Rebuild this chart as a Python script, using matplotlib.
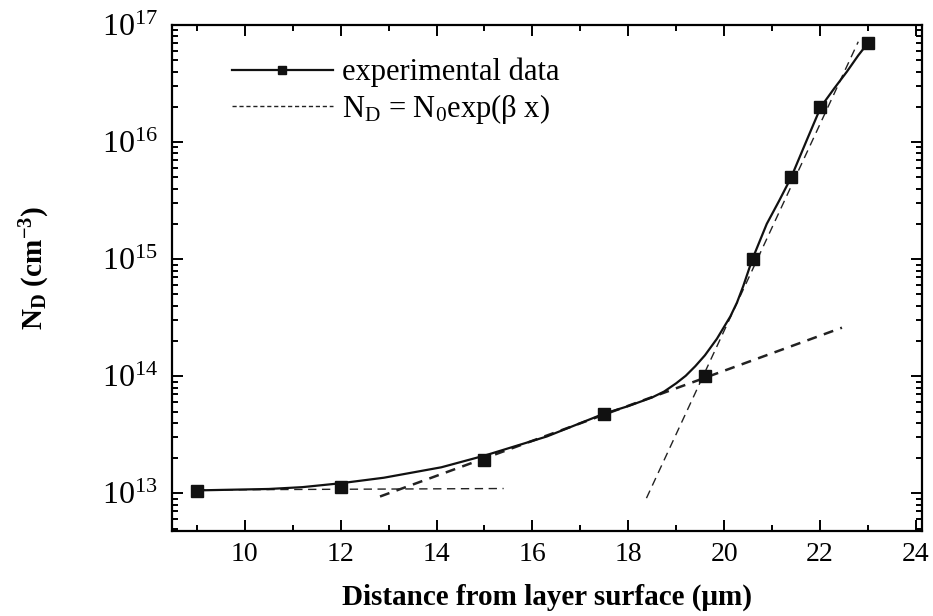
import matplotlib
matplotlib.use('Agg')
import matplotlib.pyplot as plt
from matplotlib.lines import Line2D
from matplotlib.ticker import MultipleLocator, LogLocator

plt.rcParams['font.family'] = ['Liberation Serif', 'DejaVu Serif']
plt.rcParams['mathtext.fontset'] = 'custom'
plt.rcParams['mathtext.rm'] = 'Liberation Serif'
plt.rcParams['mathtext.it'] = 'Liberation Serif:italic'
plt.rcParams['mathtext.bf'] = 'Liberation Serif:bold'
plt.rcParams['mathtext.default'] = 'regular'

# measured points
depth = [9.0, 12.0, 15.0, 17.5, 19.6, 20.6, 21.4, 22.0, 23.0]
nd = [1.05e13, 1.13e13, 1.93e13, 4.8e13, 1.0e14, 1.0e15, 5.0e15, 2.0e16, 7.0e16]

# solid guide curve
curve_x = [9.0, 9.5, 10.5, 11.2, 12.0, 12.9, 14.1, 15.0, 16.3, 17.5, 18.0, 18.5,
           18.75, 19.0, 19.2, 19.4, 19.6, 19.85, 20.13, 20.27, 20.40, 20.59, 20.89,
           21.15, 21.40, 21.73, 22.02, 22.3, 22.56, 22.8, 23.0]
curve_y = [1.06e13, 1.07e13, 1.09e13, 1.13e13, 1.22e13, 1.36e13, 1.67e13, 2.1e13,
           3.06e13, 4.8e13, 5.56e13, 6.6e13, 7.41e13, 8.71e13, 1.01e14, 1.22e14,
           1.51e14, 2.09e14, 3.24e14, 4.27e14, 5.89e14, 1.0e15, 2.0e15, 3.16e15,
           5.0e15, 1.05e16, 2.0e16, 2.88e16, 3.98e16, 5.5e16, 7.0e16]

# exponential fits N_D = N0 exp(beta x), end points
fit1_x, fit1_y = [9.0, 15.4], [1.07e13, 1.10e13]
fit2_x, fit2_y = [12.82, 22.46], [9.4e12, 2.6e14]
fit3_x, fit3_y = [18.38, 22.8], [9.1e12, 7.2e16]

fig = plt.figure(figsize=(9.33, 6.16), dpi=100)
ax = fig.add_axes([0.1844, 0.1385, 0.8038, 0.8209])

ax.plot(fit1_x, fit1_y, color='#222222', lw=1.0, ls=(0, (6, 4)))
ax.plot(fit2_x, fit2_y, color='#222222', lw=1.8, ls=(0, (4, 3)))
ax.plot(fit3_x, fit3_y, color='#222222', lw=1.0, ls=(0, (6, 4)))
ax.plot(curve_x, curve_y, color='#111111', lw=1.6)
ax.plot(depth, nd, 's', color='#111111', ms=8)

ax.set_yscale('log')
ax.set_xlim(8.48, 24.13)
ax.set_ylim(4.8e12, 1.0e17)
ax.xaxis.set_major_locator(MultipleLocator(2))
ax.xaxis.set_minor_locator(MultipleLocator(1))
ax.yaxis.set_major_locator(LogLocator(base=10))
ax.yaxis.set_minor_locator(LogLocator(base=10, subs=range(2, 10)))

ax.tick_params(which='both', direction='in', top=True, right=True, width=1.4)
ax.tick_params(which='major', length=8)
ax.tick_params(which='minor', length=4.5)
ax.tick_params(axis='x', labelsize=20, pad=8)
ax.tick_params(axis='y', labelsize=23, pad=10)
for s in ax.spines.values():
    s.set_linewidth(1.6)

ax.set_xlabel('Distance from layer surface (μm)', fontsize=21, fontweight='bold')
ax.xaxis.set_label_coords(0.5, -0.105)
ax.xaxis.label.set_va('top')
ax.set_ylabel(r'N$_\mathbf{D}$ (cm$^\mathbf{-3}$)', fontsize=21, fontweight='bold')
ax.yaxis.set_label_coords(-0.16, 0.52)

handles = [Line2D([], [], color='#111111', lw=1.6, marker='s', ms=6),
           Line2D([], [], color='#222222', lw=1.0, ls=(0, (3, 2)))]
labels = ['experimental data', r'N$_\mathregular{D}$ = N$_\mathregular{0}$exp(β x)']
ax.legend(handles, labels, loc='upper left', bbox_to_anchor=(0.08, 0.935),
          frameon=False, fontsize=22, handlelength=3.3, handletextpad=0.3,
          borderpad=0, borderaxespad=0, labelspacing=0.15, numpoints=1)

fig.savefig('out.png', dpi=100)
